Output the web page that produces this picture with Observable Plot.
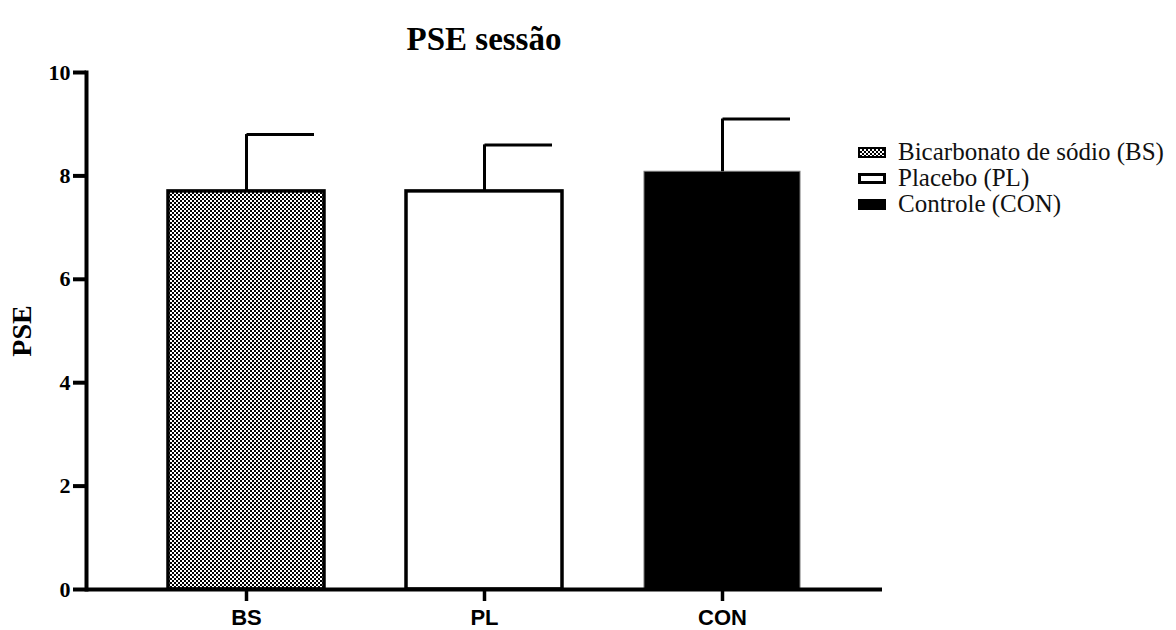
<!DOCTYPE html>
<html><head><meta charset="utf-8">
<script src="https://cdn.jsdelivr.net/npm/d3@7"></script>
<script src="https://cdn.jsdelivr.net/npm/@observablehq/plot@0.6"></script>
<style>
body{margin:0;background:#fff;}
#wrap{position:relative;width:1176px;height:630px;overflow:hidden;}
#title{position:absolute;left:0;width:968px;top:21px;text-align:center;font-family:"Liberation Serif","Times New Roman",serif;font-weight:bold;font-size:33px;line-height:36px;color:#000;}
#ylab{position:absolute;left:22px;top:331px;transform:translate(-50%,-50%) rotate(-90deg);font-family:"Liberation Serif","Times New Roman",serif;font-weight:bold;font-size:28px;color:#000;white-space:nowrap;}
#legend{position:absolute;left:858px;top:139px;font-family:"Liberation Serif","Times New Roman",serif;font-size:25px;line-height:26px;color:#111;}
.row{display:flex;align-items:center;height:26px;white-space:nowrap;}
.row span{line-height:24px;}
.sw{width:28px;height:11px;margin-right:12px;box-sizing:border-box;flex:none;}
</style></head>
<body>
<div id="wrap">
  <div id="chart"></div>
  <div id="title"></div>
  <div id="ylab"></div>
  <div id="legend"></div>
</div>
<script>
const title = "PSE sessão";
const yLabel = "PSE";
const categories = ["BS", "PL", "CON"];
const means = [7.7, 7.7, 8.08];
const upper = [8.8, 8.6, 9.1];
const yTicks = [0, 2, 4, 6, 8, 10];
const legendLabels = ["Bicarbonato de sódio (BS)", "Placebo (PL)", "Controle (CON)"];

const data = categories.map((c, i) => ({cat: c, mean: means[i], upper: upper[i]}));

const svg = Plot.plot({
  width: 1176, height: 630,
  marginLeft: 86, marginRight: 294, marginTop: 72, marginBottom: 41,
  style: {background: "white", color: "black"},
  x: {domain: categories, paddingInner: 0.343, paddingOuter: 0.337, label: null},
  y: {domain: [0, 10], label: null},
  marks: [
    Plot.barY(data, {filter: d => d.cat === "BS", x: "cat", y: "mean", fill: "url(#checker)", stroke: "black", strokeWidth: 3.5}),
    Plot.barY(data, {filter: d => d.cat === "PL", x: "cat", y: "mean", fill: "white", stroke: "black", strokeWidth: 3.5}),
    Plot.barY(data, {filter: d => d.cat === "CON", x: "cat", y: "mean", fill: "black", stroke: "#777", strokeWidth: 1}),
    Plot.ruleX(data, {x: "cat", y1: "mean", y2: "upper", stroke: "black", strokeWidth: 3}),
    Plot.tickY(data, {x: "cat", y: "upper", stroke: "black", strokeWidth: 3, insetLeft: 78.5, insetRight: 10}),
    Plot.axisY({ticks: yTicks, tickSize: 13, tickPadding: 3, strokeWidth: 4, fontSize: 22, fontWeight: "bold", label: null}),
    Plot.axisX({tickSize: 12, tickPadding: 8, strokeWidth: 3.5, fontSize: 21, fontWeight: "bold", label: null}),
    Plot.ruleY([0], {stroke: "black", strokeWidth: 4}),
    Plot.frame({anchor: "left", stroke: "black", strokeWidth: 4})
  ]
});

const defs = d3.select(svg).insert("defs", ":first-child");
const pat = defs.append("pattern").attr("id", "checker").attr("patternUnits", "userSpaceOnUse")
  .attr("width", 4).attr("height", 4);
pat.append("rect").attr("width", 4).attr("height", 4).attr("fill", "white");
pat.append("rect").attr("width", 2).attr("height", 2).attr("fill", "black");
pat.append("rect").attr("x", 2).attr("y", 2).attr("width", 2).attr("height", 2).attr("fill", "black");

d3.select(svg).selectAll('g[aria-label="y-axis tick label"]')
  .attr("font-family", "'Liberation Serif', 'Times New Roman', serif").attr("font-size", 22).attr("font-weight", "bold");
d3.select(svg).selectAll('g[aria-label="x-axis tick label"]')
  .attr("font-family", "'Liberation Sans Narrow', 'Liberation Sans', Arial, sans-serif").attr("font-size", 22).attr("font-weight", "bold");

document.getElementById("chart").appendChild(svg);
document.getElementById("title").textContent = title;
document.getElementById("ylab").textContent = yLabel;

const swStyles = [
  "background-color:#fff;background-image:repeating-conic-gradient(#000 0 25%,#fff 0 50%);background-size:4px 4px;border:2px solid #000;",
  "background:#fff;border:3px solid #000;",
  "background:#000;"
];
const leg = document.getElementById("legend");
legendLabels.forEach((t, i) => {
  const row = document.createElement("div");
  row.className = "row";
  const sw = document.createElement("div");
  sw.className = "sw";
  sw.setAttribute("style", swStyles[i]);
  const lab = document.createElement("span");
  lab.textContent = t;
  row.appendChild(sw); row.appendChild(lab);
  leg.appendChild(row);
});
</script>
</body></html>
